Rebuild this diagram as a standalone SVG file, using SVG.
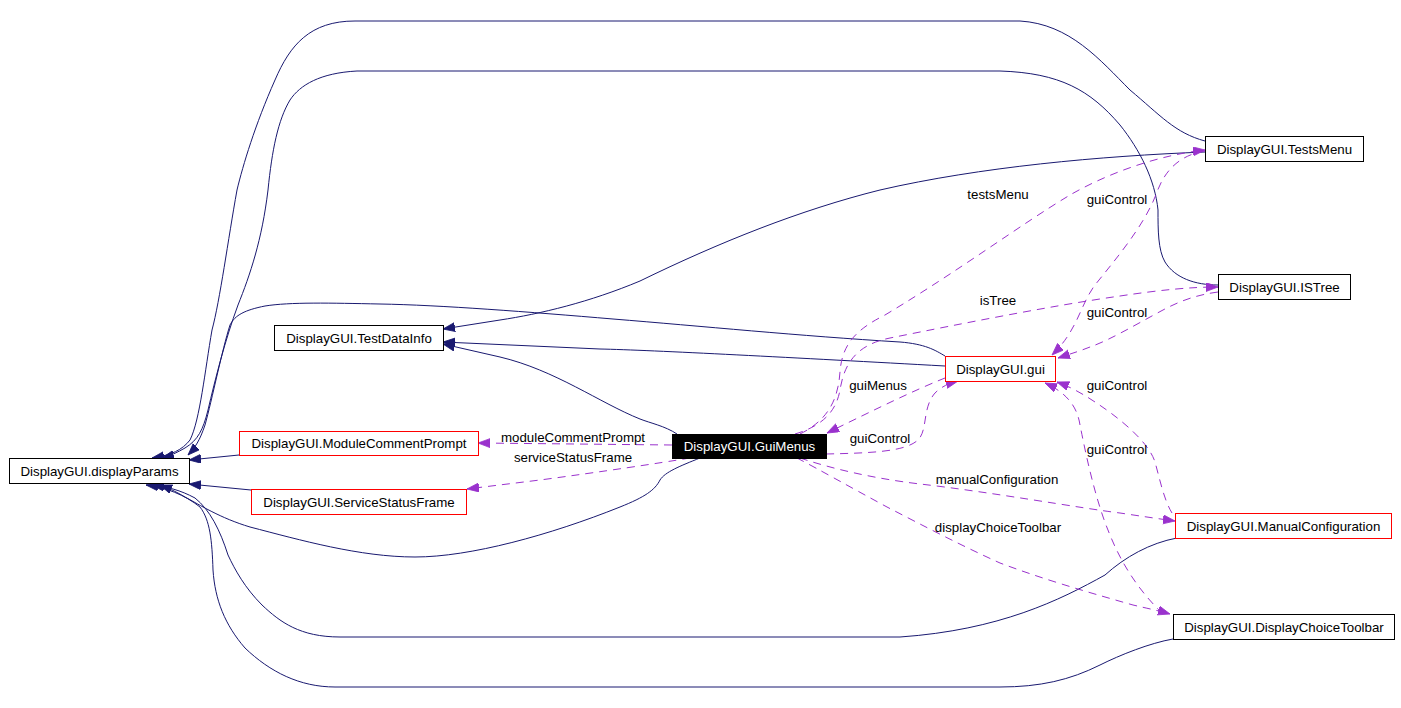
<svg xmlns="http://www.w3.org/2000/svg" width="1401" height="708" viewBox="0 0 1401 708">
<style>
.n rect{fill:#fff;stroke:#000;stroke-width:1}
.n.r rect{stroke:#f00}
.n text{font-family:"Liberation Sans",Arial,sans-serif;font-size:13.3px;text-anchor:middle;fill:#000}
.n.h rect{fill:#000}
.n.h text{fill:#fff}
.s{fill:none;stroke:#191970;stroke-width:1;marker-end:url(#an)}
.d{fill:none;stroke:#9a32cd;stroke-width:1;stroke-dasharray:8,6;marker-end:url(#ap)}
.l{font-family:"Liberation Sans",Arial,sans-serif;font-size:13.3px;text-anchor:middle;fill:#000}
</style>
<defs>
<marker id="an" markerUnits="userSpaceOnUse" markerWidth="14" markerHeight="11" refX="12" refY="4.5" orient="auto"><path d="M0,0L12,4.5L0,9z" fill="#191970" stroke="#191970" stroke-width="0.8"/></marker>
<marker id="ap" markerUnits="userSpaceOnUse" markerWidth="14" markerHeight="11" refX="12" refY="4.5" orient="auto"><path d="M0,0L12,4.5L0,9z" fill="#9a32cd" stroke="#9a32cd" stroke-width="0.8"/></marker>
</defs>
<rect width="1401" height="708" fill="#fff"/>
<g id="edges">
<path class="s" d="M1205,141 C1175,133 1160,115 1130,90 C1100,60 1070,24 1020,21 L355,21 C310,21 290,45 275,80 C255,125 243,165 237,190 C228,240 220,300 212,330 C205,370 200,420 190,440 C182,450 172,455 152,458"/>
<path class="s" d="M1218,285 C1195,285 1175,278 1165,262 C1158,250 1158,230 1158,210 C1155,180 1140,150 1120,125 C1090,90 1060,73 1000,71 L357,71 C320,73 300,85 290,100 C278,120 272,150 268,190 C262,240 250,275 238,305 C225,340 215,380 208,410 C203,430 198,440 185,448 C178,452 170,456 162,458"/>
<path class="s" d="M945,356 C935,350 925,344 900,342 C800,336 700,326 613,319 C530,312 440,305 380,304 C330,303 290,302 265,306 C245,310 235,315 230,325 C222,350 212,400 205,425 C200,440 195,448 188,455"/>
<path class="s" d="M239,455 L189,460"/>
<path class="s" d="M251,490 L189,484"/>
<path class="s" d="M700,458 C680,466 665,472 660,480 C655,490 645,497 620,507 C550,535 470,557 415,557 C360,557 300,540 250,527 C220,518 200,505 185,497 C175,491 168,488 160,485"/>
<path class="s" d="M1177,538 C1150,543 1125,557 1105,575 C1060,600 1000,630 900,637 L340,637 C300,637 280,622 262,605 C245,588 235,570 228,555 C220,530 210,510 195,498 C180,490 168,487 152,485"/>
<path class="s" d="M1173,639 C1150,643 1120,655 1100,665 C1070,680 1040,687 1000,687 L335,687 C300,687 270,672 245,648 C225,625 215,600 213,570 C212,540 210,520 200,507 C185,495 165,487 146,485"/>
<path class="s" d="M1205,152 C1100,156 980,167 880,190 C800,210 720,242 640,281 C590,302 540,314 500,320 L443,329"/>
<path class="s" d="M945,366 C800,358 650,350 600,349 L443,342"/>
<path class="s" d="M677,434 C665,426 650,423 640,419 C600,403 555,370 500,357 L443,344"/>
<path class="d" d="M672,445 L478,443"/>
<path class="d" d="M690,458 C660,463 600,472 540,480 L467,489"/>
<path class="d" d="M945,378 C915,390 880,407 827,433"/>
<path class="d" d="M826,454 C870,453 905,452 918,440 C928,430 922,408 935,393 C942,386 950,383 958,381"/>
<path class="d" d="M800,434 C828,420 838,400 840,372 C842,345 855,330 885,315 C960,270 1020,225 1070,195 C1110,172 1160,155 1205,150"/>
<path class="d" d="M795,434 C822,426 836,412 840,390 C844,365 855,345 890,338 C960,324 1050,306 1120,296 C1160,290 1190,287 1218,287"/>
<path class="d" d="M1205,151 C1180,155 1165,170 1157,192 C1145,225 1115,260 1095,285 C1080,305 1078,330 1052,355"/>
<path class="d" d="M1218,292 C1195,295 1178,302 1163,310 C1135,325 1110,340 1090,347 C1080,351 1070,354 1058,358"/>
<path class="d" d="M1172,513 C1164,500 1160,480 1155,462 C1148,440 1115,415 1095,402 C1080,392 1068,386 1057,382"/>
<path class="d" d="M1163,614 C1140,592 1122,565 1110,535 C1095,500 1085,450 1080,425 C1077,405 1065,392 1045,383"/>
<path class="d" d="M800,458 C830,468 870,478 920,484 C990,492 1080,508 1120,513 C1140,516 1160,519 1175,521"/>
<path class="d" d="M797,458 C820,470 850,487 887,507 C920,524 960,545 1000,563 C1040,578 1080,590 1133,605 C1150,609 1160,611 1170,614"/>
<text class="l" x="998" y="199">testsMenu</text>
<text class="l" x="1117" y="204">guiControl</text>
<text class="l" x="998" y="305">isTree</text>
<text class="l" x="1117" y="317">guiControl</text>
<text class="l" x="878" y="390">guiMenus</text>
<text class="l" x="1117" y="390">guiControl</text>
<text class="l" x="573" y="442">moduleCommentPrompt</text>
<text class="l" x="880" y="443">guiControl</text>
<text class="l" x="1117" y="454">guiControl</text>
<text class="l" x="573" y="462">serviceStatusFrame</text>
<text class="l" x="997" y="484">manualConfiguration</text>
<text class="l" x="998" y="532">displayChoiceToolbar</text>
</g>
<g id="displayParams" class="n"><rect x="9.5" y="458.5" width="180" height="25"/><text x="99.5" y="475.5">DisplayGUI.displayParams</text></g>
<g id="TestDataInfo" class="n"><rect x="274.5" y="325.5" width="169" height="25"/><text x="359" y="342.5">DisplayGUI.TestDataInfo</text></g>
<g id="ModuleCommentPrompt" class="n r"><rect x="239.5" y="431.5" width="239" height="24"/><text x="359" y="448">DisplayGUI.ModuleCommentPrompt</text></g>
<g id="ServiceStatusFrame" class="n r"><rect x="251.5" y="489.5" width="215" height="25"/><text x="359" y="506.5">DisplayGUI.ServiceStatusFrame</text></g>
<g id="GuiMenus" class="n h"><rect x="672.5" y="434.5" width="154" height="24"/><text x="749.5" y="451">DisplayGUI.GuiMenus</text></g>
<g id="gui" class="n r"><rect x="945.5" y="356.5" width="110" height="25"/><text x="1000.5" y="373.5">DisplayGUI.gui</text></g>
<g id="TestsMenu" class="n"><rect x="1205.5" y="136.5" width="158" height="25"/><text x="1284.5" y="153.5">DisplayGUI.TestsMenu</text></g>
<g id="ISTree" class="n"><rect x="1218.5" y="274.5" width="132" height="25"/><text x="1284.5" y="291.5">DisplayGUI.ISTree</text></g>
<g id="ManualConfiguration" class="n r"><rect x="1175.5" y="513.5" width="216" height="25"/><text x="1283.5" y="530.5">DisplayGUI.ManualConfiguration</text></g>
<g id="DisplayChoiceToolbar" class="n"><rect x="1173.5" y="614.5" width="221" height="25"/><text x="1284" y="631.5">DisplayGUI.DisplayChoiceToolbar</text></g>
</svg>
